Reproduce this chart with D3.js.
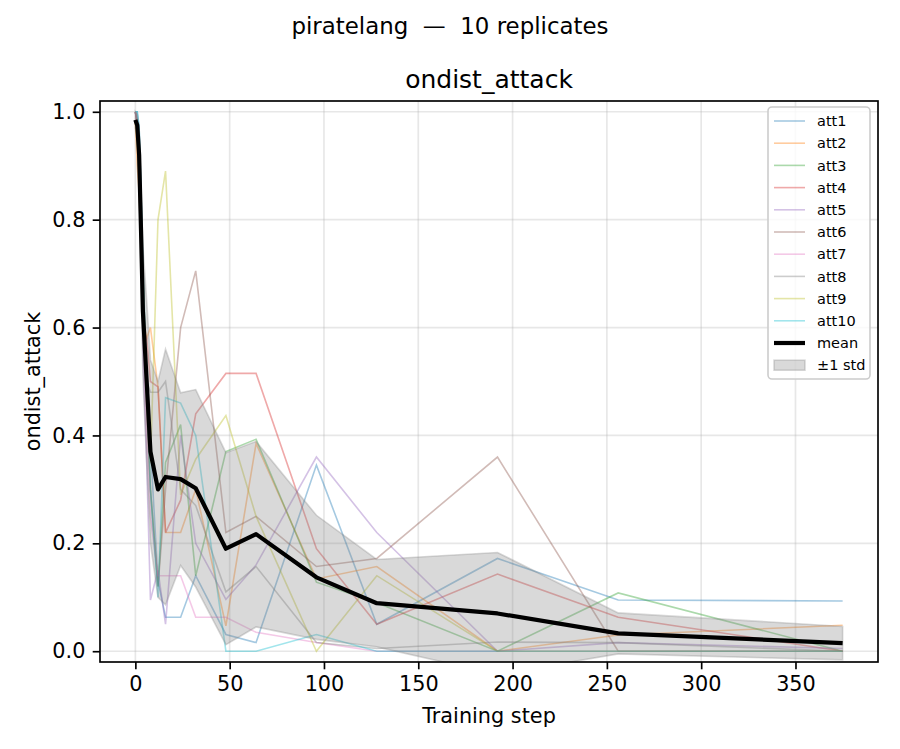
<!DOCTYPE html>
<html>
<head>
<meta charset="utf-8">
<script src="https://cdn.jsdelivr.net/npm/d3@7"></script>
<style>
  html, body { margin: 0; padding: 0; background: #ffffff; }
  svg { display: block; font-family: "DejaVu Sans", sans-serif; }
</style>
</head>
<body>
<svg id="chart" width="900" height="749"></svg>
<script>
// ---- data ----
const steps = [0, 1, 2, 3, 4, 6, 8, 12, 16, 24, 32, 48, 64, 96, 128, 192, 256, 375];

const att1  = [1.00, 1.00, 0.97, 0.85, 0.70, 0.50, 0.38, 0.13, 0.063, 0.063, 0.14, 0.031, 0.016, 0.345, 0.05, 0.172, 0.095, 0.093];
const att2  = [0.98, 0.90, 0.85, 0.75, 0.62, 0.58, 0.60, 0.49, 0.22, 0.22, 0.30, 0.047, 0.385, 0.134, 0.157, 0.0, 0.03, 0.048];
const att3  = [1.00, 0.98, 0.92, 0.80, 0.65, 0.45, 0.30, 0.12, 0.35, 0.42, 0.14, 0.37, 0.393, 0.128, 0.09, 0.0, 0.108, 0.0];
const att4  = [1.00, 0.98, 0.90, 0.75, 0.60, 0.58, 0.50, 0.49, 0.22, 0.28, 0.44, 0.515, 0.515, 0.19, 0.05, 0.143, 0.063, 0.0];
const att5  = [1.00, 0.98, 0.90, 0.78, 0.55, 0.35, 0.095, 0.15, 0.05, 0.40, 0.20, 0.096, 0.16, 0.36, 0.22, 0.0, 0.016, 0.005];
const att6  = [1.00, 0.98, 0.92, 0.80, 0.66, 0.45, 0.30, 0.12, 0.30, 0.60, 0.705, 0.22, 0.25, 0.157, 0.172, 0.36, 0.0, 0.0];
const att7  = [1.00, 0.97, 0.88, 0.75, 0.60, 0.40, 0.25, 0.14, 0.14, 0.14, 0.063, 0.063, 0.035, 0.016, 0.0, 0.0, 0.0, 0.0];
const att8  = [1.00, 0.98, 0.90, 0.80, 0.65, 0.50, 0.48, 0.48, 0.50, 0.30, 0.27, 0.11, 0.157, 0.016, 0.005, 0.017, 0.016, 0.0];
const att9  = [0.98, 0.95, 0.88, 0.80, 0.70, 0.50, 0.35, 0.80, 0.89, 0.29, 0.356, 0.437, 0.25, 0.0, 0.14, 0.0, 0.0, 0.0];
const att10 = [1.00, 1.00, 0.97, 0.85, 0.72, 0.50, 0.30, 0.10, 0.47, 0.46, 0.40, 0.0, 0.0, 0.031, 0.0, 0.0, 0.0, 0.0];

const meanVals = [0.985, 0.975, 0.92, 0.78, 0.63, 0.50, 0.37, 0.30, 0.323, 0.319, 0.302, 0.19, 0.217, 0.137, 0.089, 0.07, 0.033, 0.015];
const stdVals  = [0.015, 0.02, 0.05, 0.08, 0.12, 0.15, 0.17, 0.20, 0.237, 0.16, 0.183, 0.178, 0.172, 0.115, 0.081, 0.113, 0.038, 0.031];

const seriesNames = ["att1", "att2", "att3", "att4", "att5", "att6", "att7", "att8", "att9", "att10"];
const seriesVals = [att1, att2, att3, att4, att5, att6, att7, att8, att9, att10];
const xTicks = [0, 50, 100, 150, 200, 250, 300, 350];
const yTicks = [0.0, 0.2, 0.4, 0.6, 0.8, 1.0];

const suptitle = "piratelang  \u2014  10 replicates";
const title = "ondist_attack";
const xLabel = "Training step";
const yLabel = "ondist_attack";

// ---- layout ----
const svg = d3.select("#chart");
const L = 100, R = 878, T = 101, B = 662;
const x = d3.scaleLinear().domain([-18.75, 393.75]).range([L, R]);
const y = d3.scaleLinear().domain([-0.02, 1.02]).range([B, T]);
const color = d3.scaleOrdinal().domain(seriesNames).range(d3.schemeCategory10);

svg.append("rect").attr("width", 900).attr("height", 749).attr("fill", "#fff");

svg.append("defs").append("clipPath").attr("id", "clip")
  .append("rect").attr("x", L).attr("y", T).attr("width", R - L).attr("height", B - T);

// grid
const grid = svg.append("g");
grid.selectAll(".gx").data(xTicks).enter().append("line")
  .attr("x1", d => x(d)).attr("x2", d => x(d)).attr("y1", T).attr("y2", B)
  .attr("stroke", "#b0b0b0").attr("stroke-opacity", 0.3).attr("stroke-width", 1.67);
grid.selectAll(".gy").data(yTicks).enter().append("line")
  .attr("x1", L).attr("x2", R).attr("y1", d => y(d)).attr("y2", d => y(d))
  .attr("stroke", "#b0b0b0").attr("stroke-opacity", 0.3).attr("stroke-width", 1.67);

const plot = svg.append("g").attr("clip-path", "url(#clip)");
const line = d3.line().x((d, i) => x(steps[i])).y(d => y(d));

seriesVals.forEach((vals, k) => {
  plot.append("path").datum(vals)
    .attr("d", line)
    .attr("fill", "none")
    .attr("stroke", color(seriesNames[k]))
    .attr("stroke-opacity", 0.4)
    .attr("stroke-width", 1.6)
    .attr("stroke-linejoin", "miter");
});

// std band
const area = d3.area()
  .x((d, i) => x(steps[i]))
  .y0((d, i) => y(meanVals[i] - stdVals[i]))
  .y1((d, i) => y(meanVals[i] + stdVals[i]));
plot.append("path").datum(meanVals)
  .attr("d", area)
  .attr("fill", "#808080").attr("fill-opacity", 0.3)
  .attr("stroke", "#808080").attr("stroke-opacity", 0.3).attr("stroke-width", 1.6);

// mean
plot.append("path").datum(meanVals)
  .attr("d", line)
  .attr("fill", "none").attr("stroke", "#000").attr("stroke-width", 4.2)
  .attr("stroke-linejoin", "round");

// axes
const fs = 20.8;
const xAxis = d3.axisBottom(x).tickValues(xTicks).tickFormat(d3.format("d"))
  .tickSizeInner(7.3).tickSizeOuter(0).tickPadding(7.3);
const yAxis = d3.axisLeft(y).tickValues(yTicks).tickFormat(d3.format(".1f"))
  .tickSizeInner(7.3).tickSizeOuter(0).tickPadding(7.3);

const gx = svg.append("g").attr("transform", `translate(0,${B})`).call(xAxis);
const gy = svg.append("g").attr("transform", `translate(${L},0)`).call(yAxis);
[gx, gy].forEach(g => {
  g.select(".domain").remove();
  g.selectAll(".tick line").attr("stroke", "#000").attr("stroke-width", 1.67);
  g.selectAll(".tick text").attr("fill", "#000")
    .style("font-family", "DejaVu Sans").style("font-size", fs + "px");
});

// spines
svg.append("rect").attr("x", L).attr("y", T).attr("width", R - L).attr("height", B - T)
  .attr("fill", "none").attr("stroke", "#000").attr("stroke-width", 1.67);

// labels
svg.append("text").attr("x", (L + R) / 2).attr("y", 723).attr("text-anchor", "middle")
  .style("font-size", fs + "px").text(xLabel);
svg.append("text").attr("transform", `translate(40,${(T + B) / 2}) rotate(-90)`)
  .attr("text-anchor", "middle").style("font-size", fs + "px").text(yLabel);
svg.append("text").attr("x", (L + R) / 2).attr("y", 88).attr("text-anchor", "middle")
  .style("font-size", "25px").text(title);
svg.append("text").attr("x", 450).attr("y", 34).attr("text-anchor", "middle")
  .style("font-size", "22.9px").style("white-space", "pre")
  .attr("xml:space", "preserve").text(suptitle);

// legend
const lg = svg.append("g");
lg.append("rect").attr("x", 768).attr("y", 107).attr("width", 102).attr("height", 272)
  .attr("rx", 4).attr("fill", "#fff").attr("fill-opacity", 0.8)
  .attr("stroke", "#cccccc").attr("stroke-width", 1.6);
const lfs = 14.5, rowH = 22.2, row0 = 121;
const legendItems = seriesNames.map(n => ({ name: n, type: "line" }))
  .concat([{ name: "mean", type: "mean" }, { name: "\u00b11 std", type: "band" }]);
legendItems.forEach((it, i) => {
  const cy = row0 + i * rowH;
  if (it.type === "line") {
    lg.append("line").attr("x1", 774).attr("x2", 805).attr("y1", cy).attr("y2", cy)
      .attr("stroke", color(it.name)).attr("stroke-opacity", 0.4).attr("stroke-width", 1.6);
  } else if (it.type === "mean") {
    lg.append("line").attr("x1", 774).attr("x2", 805).attr("y1", cy).attr("y2", cy)
      .attr("stroke", "#000").attr("stroke-width", 4.2);
  } else {
    lg.append("rect").attr("x", 774).attr("y", cy - 5).attr("width", 31).attr("height", 10)
      .attr("fill", "#808080").attr("fill-opacity", 0.3)
      .attr("stroke", "#808080").attr("stroke-opacity", 0.3).attr("stroke-width", 1.6);
  }
  lg.append("text").attr("x", 817).attr("y", cy).attr("dy", "0.36em")
    .style("font-size", lfs + "px").text(it.name);
});
</script>
</body>
</html>
